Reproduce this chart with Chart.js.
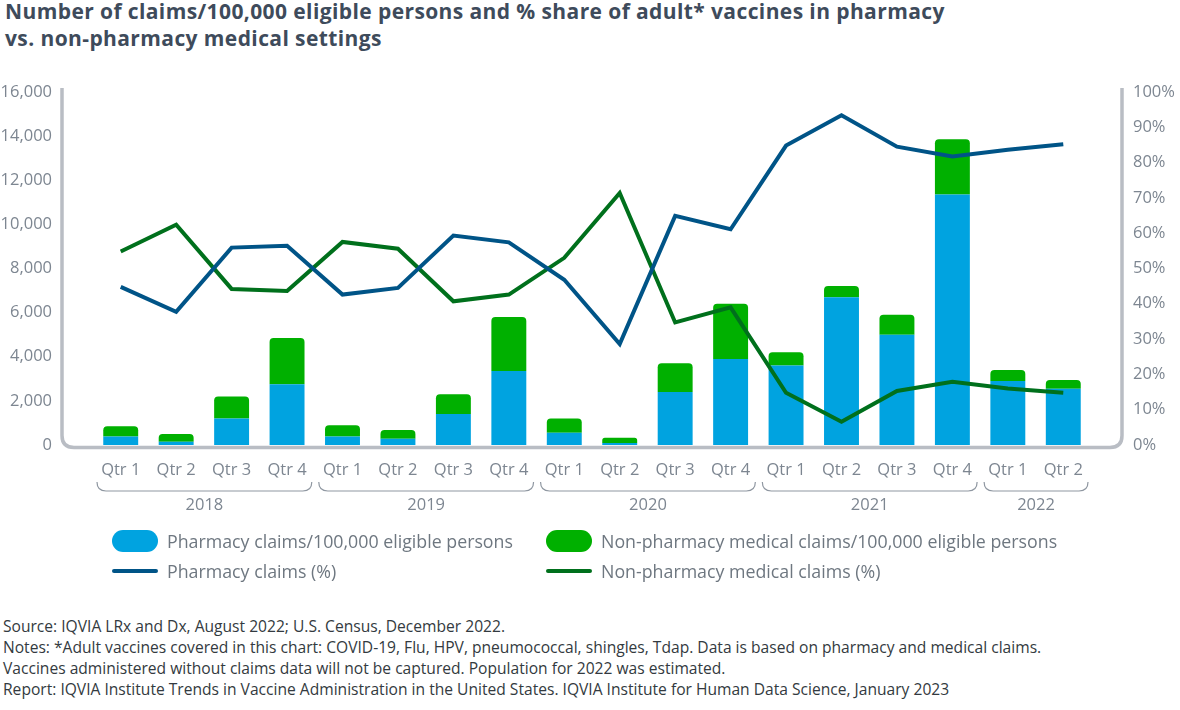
<!DOCTYPE html>
<html>
<head>
<meta charset="utf-8">
<script src="https://cdn.jsdelivr.net/npm/chart.js@4.4.1/dist/chart.umd.min.js"></script>
<style>
    body { margin: 0; width: 1180px; height: 710px; background: #fff; font-family: 'Open Sans', 'Noto Sans', sans-serif; position: relative; overflow: hidden; }
    #title { position: absolute; left: 5px; top: -2px; font-size: 21px; letter-spacing: 0.4px; font-weight: bold; line-height: 27px; color: #3e4b5b; white-space: nowrap; }
    #chart-box { position: absolute; left: 0; top: 40px; width: 1180px; height: 490px; }
    .legend-item { position: absolute; font-size: 17.8px; color: #6e7780; height: 30px; line-height: 30px; white-space: nowrap; }
    .swatch { position: absolute; left: 0; }
    .legend-item span.txt { position: absolute; left: 55px; }
    #notes { position: absolute; left: 3px; top: 616px; font-size: 15.6px; line-height: 21px; color: #333a40; white-space: nowrap; }
</style>
</head>
<body>
<div id="title">Number of claims/100,000 eligible persons and % share of adult* vaccines in pharmacy<br>vs. non-pharmacy medical settings</div>
<div id="chart-box"><canvas id="claims-chart"></canvas></div>

<div class="legend-item" style="left:112px; top:526px;"><div class="swatch" style="top:4px; width:46px; height:22px; border-radius:11px; background:#00a3e0;"></div><span class="txt">Pharmacy claims/100,000 eligible persons</span></div>
<div class="legend-item" style="left:546px; top:526px;"><div class="swatch" style="top:4px; width:46px; height:22px; border-radius:11px; background:#00b000;"></div><span class="txt">Non-pharmacy medical claims/100,000 eligible persons</span></div>
<div class="legend-item" style="left:112px; top:556px;"><div class="swatch" style="top:13px; width:46px; height:4px; border-radius:2px; background:#005487;"></div><span class="txt">Pharmacy claims (%)</span></div>
<div class="legend-item" style="left:546px; top:556px;"><div class="swatch" style="top:13px; width:46px; height:4px; border-radius:2px; background:#00701c;"></div><span class="txt">Non-pharmacy medical claims (%)</span></div>

<div id="notes">
Source: IQVIA LRx and Dx, August 2022; U.S. Census, December 2022.<br>
Notes: *Adult vaccines covered in this chart: COVID-19, Flu, HPV, pneumococcal, shingles, Tdap. Data is based on pharmacy and medical claims.<br>
Vaccines administered without claims data will not be captured. Population for 2022 was estimated.<br>
Report: IQVIA Institute Trends in Vaccine Administration in the United States. IQVIA Institute for Human Data Science, January 2023
</div>

<script>
const quarters = ['Qtr 1', 'Qtr 2', 'Qtr 3', 'Qtr 4', 'Qtr 1', 'Qtr 2', 'Qtr 3', 'Qtr 4', 'Qtr 1', 'Qtr 2', 'Qtr 3', 'Qtr 4', 'Qtr 1', 'Qtr 2', 'Qtr 3', 'Qtr 4', 'Qtr 1', 'Qtr 2']
const years = ['2018', '2019', '2020', '2021', '2022']
const quartersPerYear = [4, 4, 4, 4, 2]

const pharmacyClaims = [380, 150, 1200, 2750, 380, 280, 1400, 3350, 550, 90, 2400, 3900, 3600, 6700, 5000, 11350, 2900, 2550]
const nonPharmacyClaims = [470, 350, 1000, 2100, 520, 400, 900, 2450, 650, 240, 1300, 2500, 600, 500, 900, 2500, 500, 400]
const pharmacyPct = [44.8, 37.7, 55.9, 56.4, 42.6, 44.5, 59.3, 57.4, 46.8, 28.6, 64.9, 61.1, 84.8, 93.4, 84.5, 81.7, 83.6, 85.2]
const nonPharmacyPct = [54.8, 62.4, 44.2, 43.6, 57.5, 55.6, 40.7, 42.6, 53.0, 71.4, 34.7, 39.0, 14.8, 6.6, 15.3, 17.9, 16.0, 14.8]

const claimTicks = [0, 2000, 4000, 6000, 8000, 10000, 12000, 14000, 16000]
const pctTicks = [0, 10, 20, 30, 40, 50, 60, 70, 80, 90, 100]

const tickColor = '#7d8691'
const frameColor = '#b9bdc4'
const tickFont = { family: "'Open Sans', 'Noto Sans', sans-serif", size: 16.5 }

// rounded frame around the plot, drawn a bit outside the chart area
const framePlugin = {
    id: 'frame',
    beforeDatasetsDraw(chart) {
        const { ctx, chartArea } = chart
        const gap = 31
        const l = chartArea.left - gap, r = chartArea.right + gap
        const t = chartArea.top - 4, b = chartArea.bottom + 2.5
        const rad = 12
        ctx.save()
        ctx.strokeStyle = frameColor
        ctx.lineWidth = 3.5
        ctx.beginPath()
        ctx.moveTo(l, t)
        ctx.lineTo(l, b - rad)
        ctx.quadraticCurveTo(l, b, l + rad, b)
        ctx.lineTo(r - rad, b)
        ctx.quadraticCurveTo(r, b, r, b - rad)
        ctx.lineTo(r, t)
        ctx.stroke()
        ctx.restore()
    }
}

// year brackets under the quarter labels
const yearPlugin = {
    id: 'years',
    afterDraw(chart) {
        const { ctx } = chart
        const x = chart.scales.x
        const half = (x.getPixelForValue(1) - x.getPixelForValue(0)) / 2
        const top = chart.chartArea.bottom + 37
        const low = top + 9
        let idx = 0
        ctx.save()
        ctx.strokeStyle = '#8f97a1'
        ctx.lineWidth = 1.2
        ctx.fillStyle = tickColor
        ctx.font = "16.5px 'Open Sans', 'Noto Sans', sans-serif"
        ctx.textAlign = 'center'
        ctx.textBaseline = 'middle'
        for (let i = 0; i < years.length; i++) {
            const x0 = x.getPixelForValue(idx) - half + 4
            const x1 = x.getPixelForValue(idx + quartersPerYear[i] - 1) + half - 3
            ctx.beginPath()
            ctx.moveTo(x0, top)
            ctx.quadraticCurveTo(x0, low, x0 + 9, low)
            ctx.lineTo(x1 - 9, low)
            ctx.quadraticCurveTo(x1, low, x1, top)
            ctx.stroke()
            ctx.fillText(years[i], (x0 + x1) / 2, low + 14)
            idx += quartersPerYear[i]
        }
        ctx.restore()
    }
}

const data = {
    labels: quarters,
    datasets: [
        {
            type: 'line',
            label: 'Pharmacy claims (%)',
            data: pharmacyPct,
            yAxisID: 'y1',
            borderColor: '#005487',
            borderWidth: 4,
            pointRadius: 0,
            tension: 0,
            order: 0
        },
        {
            type: 'line',
            label: 'Non-pharmacy medical claims (%)',
            data: nonPharmacyPct,
            yAxisID: 'y1',
            borderColor: '#00701c',
            borderWidth: 4,
            pointRadius: 0,
            tension: 0,
            order: 0
        },
        {
            type: 'bar',
            label: 'Pharmacy claims/100,000 eligible persons',
            data: pharmacyClaims,
            yAxisID: 'y',
            stack: 'claims',
            backgroundColor: '#00a3e0',
            borderRadius: 4,
            barPercentage: 0.63,
            categoryPercentage: 1,
            order: 1
        },
        {
            type: 'bar',
            label: 'Non-pharmacy medical claims/100,000 eligible persons',
            data: nonPharmacyClaims,
            yAxisID: 'y',
            stack: 'claims',
            backgroundColor: '#00b000',
            borderRadius: 4,
            barPercentage: 0.63,
            categoryPercentage: 1,
            order: 1
        }
    ]
}

const config = {
    type: 'bar',
    data: data,
    plugins: [framePlugin, yearPlugin],
    options: {
        responsive: true,
        maintainAspectRatio: false,
        animation: false,
        events: [],
        layout: { padding: 0 },
        plugins: {
            legend: { display: false },
            tooltip: { enabled: false }
        },
        scales: {
            x: {
                stacked: true,
                grid: { display: false, drawTicks: false },
                border: { display: false },
                ticks: { color: tickColor, font: tickFont, padding: 15, maxRotation: 0, autoSkip: false },
                afterFit(scale) { scale.height = 85 }
            },
            y: {
                position: 'left',
                stacked: true,
                min: 0,
                max: 16000,
                grid: { display: false, drawTicks: false },
                border: { display: false },
                afterBuildTicks(scale) { scale.ticks = claimTicks.map(v => ({ value: v })) },
                ticks: {
                    color: tickColor,
                    font: tickFont,
                    padding: 41,
                    callback: v => v.toLocaleString('en-US')
                },
                afterFit(scale) { scale.width = 93 }
            },
            y1: {
                position: 'right',
                min: 0,
                max: 100,
                grid: { display: false, drawTicks: false },
                border: { display: false },
                afterBuildTicks(scale) { scale.ticks = pctTicks.map(v => ({ value: v })) },
                ticks: {
                    color: tickColor,
                    font: tickFont,
                    padding: 42,
                    callback: v => v + '%'
                },
                afterFit(scale) { scale.width = 89 }
            }
        }
    }
}

const claims_chart = new Chart(document.getElementById('claims-chart'), config)
</script>
</body>
</html>
